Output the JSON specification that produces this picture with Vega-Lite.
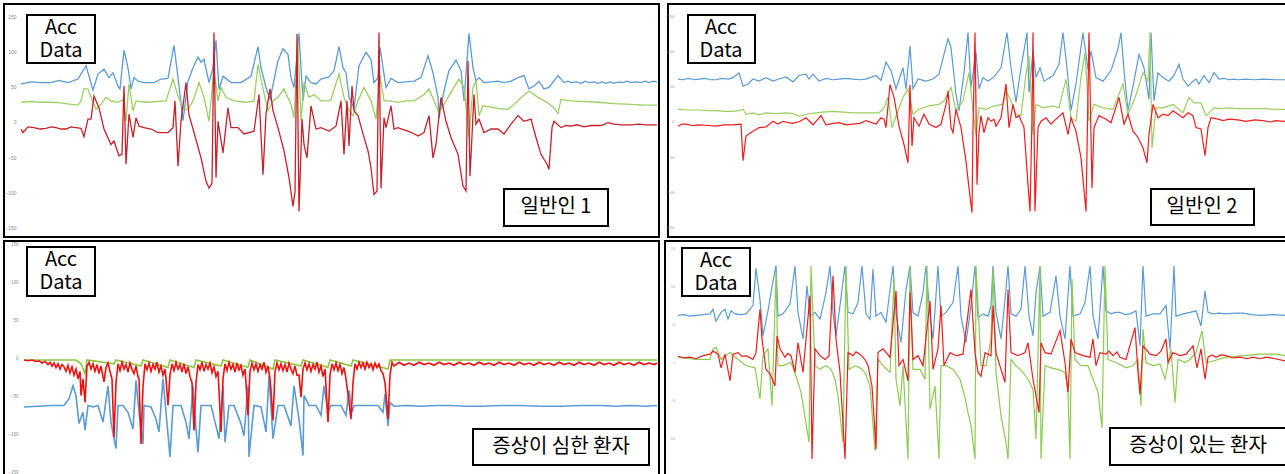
{
"$schema":"https://vega.github.io/schema/vega-lite/v6.json",
"padding":{"left":3,"top":3,"right":2,"bottom":2},
"config":{"view":{"stroke":"black","strokeWidth":2},"text":{"font":"Noto Sans CJK KR"}},
"datasets":{
"grid":[{"v":-150},{"v":-100},{"v":-50},{"v":0},{"v":50},{"v":100},{"v":150}],
"p1":[
{"s":"X","n":20,"v":54},{"s":"X","n":30,"v":57},{"s":"X","n":40,"v":56},{"s":"X","n":50,"v":56},{"s":"X","n":58,"v":59},{"s":"X","n":67,"v":56},{"s":"X","n":77,"v":61},{"s":"X","n":85,"v":80},{"s":"X","n":92,"v":45},{"s":"X","n":97,"v":68},{"s":"X","n":103,"v":75},{"s":"X","n":108,"v":63},{"s":"X","n":112,"v":70},{"s":"X","n":117,"v":51},{"s":"X","n":119,"v":47},{"s":"X","n":123,"v":102},{"s":"X","n":127,"v":77},{"s":"X","n":130,"v":47},{"s":"X","n":133,"v":63},{"s":"X","n":137,"v":58},{"s":"X","n":143,"v":56},{"s":"X","n":153,"v":56},{"s":"X","n":160,"v":61},{"s":"X","n":167,"v":62},{"s":"X","n":173,"v":109},{"s":"X","n":177,"v":63},{"s":"X","n":182,"v":2},{"s":"X","n":187,"v":58},{"s":"X","n":192,"v":77},{"s":"X","n":197,"v":92},{"s":"X","n":200,"v":85},{"s":"X","n":203,"v":89},{"s":"X","n":208,"v":56},{"s":"X","n":212,"v":77},{"s":"X","n":215,"v":116},{"s":"X","n":218,"v":46},{"s":"X","n":222,"v":65},{"s":"X","n":230,"v":56},{"s":"X","n":240,"v":56},{"s":"X","n":250,"v":65},{"s":"X","n":257,"v":107},{"s":"X","n":260,"v":77},{"s":"X","n":265,"v":49},{"s":"X","n":269,"v":32},{"s":"X","n":277,"v":87},{"s":"X","n":282,"v":104},{"s":"X","n":287,"v":96},{"s":"X","n":290,"v":63},{"s":"X","n":293,"v":49},{"s":"X","n":298,"v":126},{"s":"X","n":302,"v":30},{"s":"X","n":305,"v":65},{"s":"X","n":310,"v":56},{"s":"X","n":315,"v":54},{"s":"X","n":320,"v":61},{"s":"X","n":328,"v":64},{"s":"X","n":333,"v":73},{"s":"X","n":338,"v":107},{"s":"X","n":342,"v":77},{"s":"X","n":345,"v":70},{"s":"X","n":348,"v":35},{"s":"X","n":353,"v":20},{"s":"X","n":358,"v":80},{"s":"X","n":365,"v":99},{"s":"X","n":370,"v":89},{"s":"X","n":373,"v":56},{"s":"X","n":377,"v":63},{"s":"X","n":379,"v":106},{"s":"X","n":385,"v":49},{"s":"X","n":390,"v":62},{"s":"X","n":397,"v":56},{"s":"X","n":405,"v":57},{"s":"X","n":413,"v":58},{"s":"X","n":420,"v":63},{"s":"X","n":427,"v":94},{"s":"X","n":432,"v":70},{"s":"X","n":437,"v":35},{"s":"X","n":438,"v":6},{"s":"X","n":443,"v":44},{"s":"X","n":448,"v":73},{"s":"X","n":455,"v":88},{"s":"X","n":460,"v":73},{"s":"X","n":463,"v":30},{"s":"X","n":468,"v":126},{"s":"X","n":472,"v":77},{"s":"X","n":475,"v":58},{"s":"X","n":478,"v":63},{"s":"X","n":483,"v":56},{"s":"X","n":490,"v":57},{"s":"X","n":497,"v":58},{"s":"X","n":503,"v":56},{"s":"X","n":510,"v":58},{"s":"X","n":517,"v":63},{"s":"X","n":523,"v":66},{"s":"X","n":528,"v":47},{"s":"X","n":533,"v":51},{"s":"X","n":538,"v":58},{"s":"X","n":543,"v":47},{"s":"X","n":548,"v":49},{"s":"X","n":557,"v":66},{"s":"X","n":563,"v":56},{"s":"X","n":567,"v":58},{"s":"X","n":570,"v":56},{"s":"X","n":575,"v":57},{"s":"X","n":580,"v":55},{"s":"X","n":584,"v":58},{"s":"X","n":588,"v":56},{"s":"X","n":593,"v":57},{"s":"X","n":597,"v":55},{"s":"X","n":601,"v":57},{"s":"X","n":605,"v":55},{"s":"X","n":609,"v":57},{"s":"X","n":613,"v":55},{"s":"X","n":618,"v":57},{"s":"X","n":622,"v":56},{"s":"X","n":626,"v":58},{"s":"X","n":630,"v":56},{"s":"X","n":635,"v":57},{"s":"X","n":640,"v":56},{"s":"X","n":644,"v":58},{"s":"X","n":648,"v":56},{"s":"X","n":652,"v":58},{"s":"X","n":656,"v":57},
{"s":"Y","n":20,"v":28},{"s":"Y","n":30,"v":29},{"s":"Y","n":40,"v":28},{"s":"Y","n":50,"v":28},{"s":"Y","n":60,"v":27},{"s":"Y","n":70,"v":25},{"s":"Y","n":77,"v":24},{"s":"Y","n":80,"v":30},{"s":"Y","n":83,"v":47},{"s":"Y","n":87,"v":47},{"s":"Y","n":90,"v":35},{"s":"Y","n":95,"v":18},{"s":"Y","n":100,"v":25},{"s":"Y","n":105,"v":35},{"s":"Y","n":110,"v":30},{"s":"Y","n":117,"v":28},{"s":"Y","n":122,"v":32},{"s":"Y","n":125,"v":1},{"s":"Y","n":128,"v":54},{"s":"Y","n":132,"v":16},{"s":"Y","n":135,"v":30},{"s":"Y","n":145,"v":28},{"s":"Y","n":155,"v":29},{"s":"Y","n":165,"v":30},{"s":"Y","n":172,"v":61},{"s":"Y","n":177,"v":37},{"s":"Y","n":182,"v":20},{"s":"Y","n":187,"v":18},{"s":"Y","n":192,"v":30},{"s":"Y","n":198,"v":56},{"s":"Y","n":203,"v":35},{"s":"Y","n":208,"v":1},{"s":"Y","n":213,"v":73},{"s":"Y","n":217,"v":30},{"s":"Y","n":220,"v":49},{"s":"Y","n":225,"v":35},{"s":"Y","n":233,"v":30},{"s":"Y","n":245,"v":28},{"s":"Y","n":253,"v":30},{"s":"Y","n":257,"v":82},{"s":"Y","n":262,"v":47},{"s":"Y","n":267,"v":16},{"s":"Y","n":272,"v":30},{"s":"Y","n":277,"v":35},{"s":"Y","n":283,"v":47},{"s":"Y","n":290,"v":25},{"s":"Y","n":293,"v":6},{"s":"Y","n":297,"v":113},{"s":"Y","n":300,"v":1},{"s":"Y","n":303,"v":56},{"s":"Y","n":308,"v":35},{"s":"Y","n":313,"v":39},{"s":"Y","n":320,"v":30},{"s":"Y","n":328,"v":30},{"s":"Y","n":330,"v":32},{"s":"Y","n":338,"v":68},{"s":"Y","n":343,"v":35},{"s":"Y","n":348,"v":16},{"s":"Y","n":352,"v":9},{"s":"Y","n":357,"v":30},{"s":"Y","n":363,"v":49},{"s":"Y","n":370,"v":30},{"s":"Y","n":375,"v":4},{"s":"Y","n":379,"v":66},{"s":"Y","n":383,"v":30},{"s":"Y","n":388,"v":30},{"s":"Y","n":397,"v":28},{"s":"Y","n":405,"v":30},{"s":"Y","n":413,"v":30},{"s":"Y","n":423,"v":39},{"s":"Y","n":428,"v":47},{"s":"Y","n":433,"v":30},{"s":"Y","n":438,"v":13},{"s":"Y","n":445,"v":30},{"s":"Y","n":452,"v":47},{"s":"Y","n":458,"v":61},{"s":"Y","n":463,"v":49},{"s":"Y","n":468,"v":-22},{"s":"Y","n":472,"v":49},{"s":"Y","n":475,"v":58},{"s":"Y","n":478,"v":9},{"s":"Y","n":482,"v":23},{"s":"Y","n":490,"v":21},{"s":"Y","n":498,"v":19},{"s":"Y","n":507,"v":18},{"s":"Y","n":513,"v":25},{"s":"Y","n":522,"v":37},{"s":"Y","n":528,"v":44},{"s":"Y","n":537,"v":35},{"s":"Y","n":547,"v":27},{"s":"Y","n":553,"v":20},{"s":"Y","n":557,"v":12},{"s":"Y","n":560,"v":32},{"s":"Y","n":570,"v":30},{"s":"Y","n":583,"v":29},{"s":"Y","n":597,"v":28},{"s":"Y","n":613,"v":26},{"s":"Y","n":630,"v":25},{"s":"Y","n":643,"v":24},{"s":"Y","n":656,"v":24},
{"s":"Z","n":20,"v":-10},{"s":"Z","n":22,"v":-15},{"s":"Z","n":27,"v":-7},{"s":"Z","n":33,"v":-8},{"s":"Z","n":39,"v":-10},{"s":"Z","n":45,"v":-9},{"s":"Z","n":50,"v":-7},{"s":"Z","n":55,"v":-8},{"s":"Z","n":60,"v":-10},{"s":"Z","n":65,"v":-10},{"s":"Z","n":70,"v":-7},{"s":"Z","n":75,"v":-8},{"s":"Z","n":80,"v":-9},{"s":"Z","n":83,"v":-21},{"s":"Z","n":87,"v":4},{"s":"Z","n":90,"v":4},{"s":"Z","n":93,"v":37},{"s":"Z","n":98,"v":20},{"s":"Z","n":103,"v":-10},{"s":"Z","n":110,"v":-32},{"s":"Z","n":113,"v":-27},{"s":"Z","n":118,"v":-48},{"s":"Z","n":121,"v":-46},{"s":"Z","n":123,"v":51},{"s":"Z","n":125,"v":-60},{"s":"Z","n":128,"v":11},{"s":"Z","n":132,"v":-22},{"s":"Z","n":135,"v":6},{"s":"Z","n":138,"v":-6},{"s":"Z","n":143,"v":-8},{"s":"Z","n":150,"v":-10},{"s":"Z","n":157,"v":-15},{"s":"Z","n":167,"v":-15},{"s":"Z","n":172,"v":-8},{"s":"Z","n":174,"v":30},{"s":"Z","n":177,"v":-63},{"s":"Z","n":180,"v":1},{"s":"Z","n":185,"v":56},{"s":"Z","n":188,"v":10},{"s":"Z","n":193,"v":-15},{"s":"Z","n":200,"v":-51},{"s":"Z","n":205,"v":-84},{"s":"Z","n":208,"v":-94},{"s":"Z","n":211,"v":-87},{"s":"Z","n":213,"v":127},{"s":"Z","n":215,"v":-79},{"s":"Z","n":217,"v":1},{"s":"Z","n":222,"v":-44},{"s":"Z","n":227,"v":20},{"s":"Z","n":230,"v":-8},{"s":"Z","n":237,"v":-8},{"s":"Z","n":243,"v":-17},{"s":"Z","n":253,"v":-13},{"s":"Z","n":258,"v":39},{"s":"Z","n":262,"v":-75},{"s":"Z","n":265,"v":11},{"s":"Z","n":269,"v":47},{"s":"Z","n":272,"v":16},{"s":"Z","n":277,"v":-8},{"s":"Z","n":283,"v":-41},{"s":"Z","n":288,"v":-79},{"s":"Z","n":292,"v":-120},{"s":"Z","n":294,"v":-99},{"s":"Z","n":296,"v":125},{"s":"Z","n":298,"v":-127},{"s":"Z","n":301,"v":4},{"s":"Z","n":303,"v":-32},{"s":"Z","n":306,"v":-51},{"s":"Z","n":310,"v":23},{"s":"Z","n":315,"v":-10},{"s":"Z","n":320,"v":-8},{"s":"Z","n":328,"v":-13},{"s":"Z","n":335,"v":-6},{"s":"Z","n":340,"v":30},{"s":"Z","n":343,"v":-46},{"s":"Z","n":346,"v":30},{"s":"Z","n":348,"v":-34},{"s":"Z","n":351,"v":51},{"s":"Z","n":353,"v":16},{"s":"Z","n":357,"v":9},{"s":"Z","n":362,"v":-17},{"s":"Z","n":367,"v":-41},{"s":"Z","n":370,"v":-65},{"s":"Z","n":373,"v":-103},{"s":"Z","n":376,"v":-98},{"s":"Z","n":378,"v":127},{"s":"Z","n":380,"v":-94},{"s":"Z","n":383,"v":6},{"s":"Z","n":385,"v":-8},{"s":"Z","n":390,"v":23},{"s":"Z","n":393,"v":-10},{"s":"Z","n":397,"v":-8},{"s":"Z","n":402,"v":-11},{"s":"Z","n":407,"v":-13},{"s":"Z","n":412,"v":-16},{"s":"Z","n":417,"v":-20},{"s":"Z","n":423,"v":-15},{"s":"Z","n":428,"v":9},{"s":"Z","n":432,"v":-51},{"s":"Z","n":435,"v":-32},{"s":"Z","n":440,"v":35},{"s":"Z","n":445,"v":1},{"s":"Z","n":450,"v":-22},{"s":"Z","n":457,"v":-46},{"s":"Z","n":462,"v":-91},{"s":"Z","n":465,"v":-98},{"s":"Z","n":467,"v":87},{"s":"Z","n":469,"v":-77},{"s":"Z","n":473,"v":39},{"s":"Z","n":475,"v":-3},{"s":"Z","n":478,"v":4},{"s":"Z","n":483,"v":-15},{"s":"Z","n":490,"v":-10},{"s":"Z","n":497,"v":-10},{"s":"Z","n":503,"v":-17},{"s":"Z","n":510,"v":-3},{"s":"Z","n":517,"v":9},{"s":"Z","n":523,"v":1},{"s":"Z","n":530,"v":4},{"s":"Z","n":535,"v":-22},{"s":"Z","n":540,"v":-46},{"s":"Z","n":546,"v":-60},{"s":"Z","n":548,"v":-67},{"s":"Z","n":551,"v":-8},{"s":"Z","n":553,"v":1},{"s":"Z","n":560,"v":-8},{"s":"Z","n":565,"v":-5},{"s":"Z","n":570,"v":-6},{"s":"Z","n":576,"v":-4},{"s":"Z","n":583,"v":-7},{"s":"Z","n":590,"v":-5},{"s":"Z","n":600,"v":-5},{"s":"Z","n":607,"v":-1},{"s":"Z","n":613,"v":-3},{"s":"Z","n":620,"v":-4},{"s":"Z","n":630,"v":-4},{"s":"Z","n":638,"v":-3},{"s":"Z","n":645,"v":-4},{"s":"Z","n":656,"v":-4}
],
"p2":[
{"s":"X","n":670,"v":61},{"s":"X","n":675,"v":60},{"s":"X","n":681,"v":62},{"s":"X","n":686,"v":60},{"s":"X","n":691,"v":61},{"s":"X","n":697,"v":62},{"s":"X","n":703,"v":60},{"s":"X","n":708,"v":60},{"s":"X","n":714,"v":62},{"s":"X","n":720,"v":61},{"s":"X","n":725,"v":63},{"s":"X","n":731,"v":70},{"s":"X","n":735,"v":51},{"s":"X","n":740,"v":54},{"s":"X","n":745,"v":61},{"s":"X","n":751,"v":58},{"s":"X","n":758,"v":63},{"s":"X","n":765,"v":58},{"s":"X","n":771,"v":61},{"s":"X","n":778,"v":64},{"s":"X","n":785,"v":57},{"s":"X","n":791,"v":66},{"s":"X","n":798,"v":68},{"s":"X","n":801,"v":61},{"s":"X","n":805,"v":68},{"s":"X","n":811,"v":58},{"s":"X","n":818,"v":62},{"s":"X","n":825,"v":60},{"s":"X","n":831,"v":61},{"s":"X","n":838,"v":62},{"s":"X","n":845,"v":61},{"s":"X","n":852,"v":60},{"s":"X","n":858,"v":61},{"s":"X","n":868,"v":66},{"s":"X","n":873,"v":59},{"s":"X","n":878,"v":85},{"s":"X","n":883,"v":73},{"s":"X","n":888,"v":47},{"s":"X","n":895,"v":77},{"s":"X","n":898,"v":47},{"s":"X","n":902,"v":108},{"s":"X","n":905,"v":47},{"s":"X","n":910,"v":61},{"s":"X","n":918,"v":58},{"s":"X","n":925,"v":61},{"s":"X","n":931,"v":68},{"s":"X","n":936,"v":96},{"s":"X","n":940,"v":118},{"s":"X","n":943,"v":106},{"s":"X","n":948,"v":39},{"s":"X","n":951,"v":16},{"s":"X","n":956,"v":70},{"s":"X","n":960,"v":127},{"s":"X","n":963,"v":49},{"s":"X","n":968,"v":99},{"s":"X","n":971,"v":47},{"s":"X","n":975,"v":63},{"s":"X","n":980,"v":58},{"s":"X","n":986,"v":64},{"s":"X","n":993,"v":77},{"s":"X","n":999,"v":127},{"s":"X","n":1003,"v":77},{"s":"X","n":1008,"v":28},{"s":"X","n":1013,"v":77},{"s":"X","n":1019,"v":127},{"s":"X","n":1021,"v":42},{"s":"X","n":1025,"v":101},{"s":"X","n":1028,"v":63},{"s":"X","n":1032,"v":77},{"s":"X","n":1036,"v":58},{"s":"X","n":1045,"v":66},{"s":"X","n":1051,"v":82},{"s":"X","n":1055,"v":127},{"s":"X","n":1059,"v":77},{"s":"X","n":1063,"v":16},{"s":"X","n":1068,"v":54},{"s":"X","n":1075,"v":127},{"s":"X","n":1080,"v":75},{"s":"X","n":1083,"v":101},{"s":"X","n":1088,"v":63},{"s":"X","n":1095,"v":58},{"s":"X","n":1103,"v":73},{"s":"X","n":1110,"v":104},{"s":"X","n":1113,"v":127},{"s":"X","n":1116,"v":73},{"s":"X","n":1120,"v":16},{"s":"X","n":1125,"v":51},{"s":"X","n":1131,"v":96},{"s":"X","n":1136,"v":77},{"s":"X","n":1141,"v":32},{"s":"X","n":1143,"v":127},{"s":"X","n":1146,"v":30},{"s":"X","n":1150,"v":70},{"s":"X","n":1155,"v":63},{"s":"X","n":1161,"v":58},{"s":"X","n":1166,"v":66},{"s":"X","n":1171,"v":82},{"s":"X","n":1175,"v":61},{"s":"X","n":1180,"v":51},{"s":"X","n":1185,"v":58},{"s":"X","n":1188,"v":61},{"s":"X","n":1191,"v":54},{"s":"X","n":1196,"v":66},{"s":"X","n":1201,"v":56},{"s":"X","n":1206,"v":70},{"s":"X","n":1211,"v":61},{"s":"X","n":1216,"v":62},{"s":"X","n":1221,"v":60},{"s":"X","n":1226,"v":61},{"s":"X","n":1230,"v":60},{"s":"X","n":1238,"v":61},{"s":"X","n":1247,"v":60},{"s":"X","n":1255,"v":61},{"s":"X","n":1268,"v":60},{"s":"X","n":1281,"v":60},
{"s":"Y","n":670,"v":18},{"s":"Y","n":680,"v":17},{"s":"Y","n":691,"v":17},{"s":"Y","n":700,"v":16},{"s":"Y","n":708,"v":16},{"s":"Y","n":717,"v":15},{"s":"Y","n":725,"v":15},{"s":"Y","n":731,"v":16},{"s":"Y","n":735,"v":18},{"s":"Y","n":738,"v":11},{"s":"Y","n":745,"v":13},{"s":"Y","n":751,"v":10},{"s":"Y","n":758,"v":13},{"s":"Y","n":768,"v":12},{"s":"Y","n":778,"v":13},{"s":"Y","n":785,"v":12},{"s":"Y","n":791,"v":8},{"s":"Y","n":798,"v":11},{"s":"Y","n":808,"v":13},{"s":"Y","n":815,"v":14},{"s":"Y","n":825,"v":15},{"s":"Y","n":835,"v":14},{"s":"Y","n":845,"v":13},{"s":"Y","n":858,"v":13},{"s":"Y","n":871,"v":13},{"s":"Y","n":876,"v":20},{"s":"Y","n":880,"v":35},{"s":"Y","n":884,"v":-8},{"s":"Y","n":890,"v":16},{"s":"Y","n":895,"v":35},{"s":"Y","n":900,"v":47},{"s":"Y","n":905,"v":11},{"s":"Y","n":911,"v":18},{"s":"Y","n":921,"v":23},{"s":"Y","n":931,"v":25},{"s":"Y","n":936,"v":30},{"s":"Y","n":943,"v":49},{"s":"Y","n":948,"v":16},{"s":"Y","n":955,"v":30},{"s":"Y","n":961,"v":70},{"s":"Y","n":965,"v":16},{"s":"Y","n":968,"v":-18},{"s":"Y","n":971,"v":20},{"s":"Y","n":978,"v":18},{"s":"Y","n":986,"v":23},{"s":"Y","n":995,"v":25},{"s":"Y","n":998,"v":44},{"s":"Y","n":1003,"v":30},{"s":"Y","n":1008,"v":11},{"s":"Y","n":1013,"v":9},{"s":"Y","n":1018,"v":68},{"s":"Y","n":1021,"v":94},{"s":"Y","n":1025,"v":-18},{"s":"Y","n":1028,"v":25},{"s":"Y","n":1035,"v":20},{"s":"Y","n":1045,"v":23},{"s":"Y","n":1051,"v":20},{"s":"Y","n":1058,"v":61},{"s":"Y","n":1063,"v":6},{"s":"Y","n":1068,"v":1},{"s":"Y","n":1073,"v":63},{"s":"Y","n":1077,"v":99},{"s":"Y","n":1081,"v":1},{"s":"Y","n":1086,"v":25},{"s":"Y","n":1095,"v":20},{"s":"Y","n":1105,"v":18},{"s":"Y","n":1115,"v":54},{"s":"Y","n":1120,"v":11},{"s":"Y","n":1126,"v":30},{"s":"Y","n":1135,"v":70},{"s":"Y","n":1140,"v":58},{"s":"Y","n":1142,"v":127},{"s":"Y","n":1144,"v":-37},{"s":"Y","n":1148,"v":20},{"s":"Y","n":1155,"v":20},{"s":"Y","n":1165,"v":25},{"s":"Y","n":1175,"v":13},{"s":"Y","n":1181,"v":35},{"s":"Y","n":1186,"v":27},{"s":"Y","n":1193,"v":27},{"s":"Y","n":1198,"v":9},{"s":"Y","n":1201,"v":13},{"s":"Y","n":1206,"v":20},{"s":"Y","n":1214,"v":19},{"s":"Y","n":1221,"v":20},{"s":"Y","n":1230,"v":19},{"s":"Y","n":1238,"v":19},{"s":"Y","n":1247,"v":19},{"s":"Y","n":1255,"v":19},{"s":"Y","n":1268,"v":18},{"s":"Y","n":1281,"v":18},
{"s":"Z","n":670,"v":-6},{"s":"Z","n":674,"v":-3},{"s":"Z","n":678,"v":-3},{"s":"Z","n":684,"v":-5},{"s":"Z","n":691,"v":-4},{"s":"Z","n":700,"v":-5},{"s":"Z","n":708,"v":-6},{"s":"Z","n":716,"v":-4},{"s":"Z","n":725,"v":-4},{"s":"Z","n":733,"v":-3},{"s":"Z","n":735,"v":-55},{"s":"Z","n":738,"v":-20},{"s":"Z","n":743,"v":-15},{"s":"Z","n":751,"v":-8},{"s":"Z","n":758,"v":-7},{"s":"Z","n":765,"v":1},{"s":"Z","n":770,"v":-3},{"s":"Z","n":775,"v":1},{"s":"Z","n":780,"v":-1},{"s":"Z","n":785,"v":-2},{"s":"Z","n":792,"v":1},{"s":"Z","n":798,"v":6},{"s":"Z","n":805,"v":-4},{"s":"Z","n":813,"v":9},{"s":"Z","n":818,"v":-4},{"s":"Z","n":825,"v":-2},{"s":"Z","n":831,"v":-1},{"s":"Z","n":838,"v":-4},{"s":"Z","n":845,"v":-3},{"s":"Z","n":852,"v":-2},{"s":"Z","n":858,"v":2},{"s":"Z","n":868,"v":-3},{"s":"Z","n":873,"v":6},{"s":"Z","n":876,"v":4},{"s":"Z","n":878,"v":-8},{"s":"Z","n":882,"v":53},{"s":"Z","n":886,"v":35},{"s":"Z","n":891,"v":-6},{"s":"Z","n":896,"v":-32},{"s":"Z","n":900,"v":-58},{"s":"Z","n":902,"v":53},{"s":"Z","n":904,"v":-34},{"s":"Z","n":906,"v":6},{"s":"Z","n":911,"v":-6},{"s":"Z","n":916,"v":11},{"s":"Z","n":921,"v":-3},{"s":"Z","n":928,"v":-8},{"s":"Z","n":933,"v":-3},{"s":"Z","n":938,"v":25},{"s":"Z","n":940,"v":44},{"s":"Z","n":943,"v":-8},{"s":"Z","n":945,"v":-15},{"s":"Z","n":948,"v":18},{"s":"Z","n":953,"v":-8},{"s":"Z","n":958,"v":-56},{"s":"Z","n":961,"v":-94},{"s":"Z","n":964,"v":-129},{"s":"Z","n":965,"v":-8},{"s":"Z","n":967,"v":127},{"s":"Z","n":969,"v":-89},{"s":"Z","n":971,"v":-15},{"s":"Z","n":973,"v":9},{"s":"Z","n":976,"v":-15},{"s":"Z","n":980,"v":6},{"s":"Z","n":983,"v":1},{"s":"Z","n":986,"v":4},{"s":"Z","n":988,"v":-6},{"s":"Z","n":993,"v":6},{"s":"Z","n":998,"v":54},{"s":"Z","n":1001,"v":-8},{"s":"Z","n":1005,"v":25},{"s":"Z","n":1008,"v":6},{"s":"Z","n":1011,"v":9},{"s":"Z","n":1016,"v":-8},{"s":"Z","n":1020,"v":-89},{"s":"Z","n":1022,"v":-127},{"s":"Z","n":1024,"v":6},{"s":"Z","n":1025,"v":127},{"s":"Z","n":1027,"v":-127},{"s":"Z","n":1030,"v":-8},{"s":"Z","n":1033,"v":1},{"s":"Z","n":1038,"v":6},{"s":"Z","n":1043,"v":-3},{"s":"Z","n":1048,"v":4},{"s":"Z","n":1055,"v":13},{"s":"Z","n":1060,"v":-18},{"s":"Z","n":1063,"v":6},{"s":"Z","n":1068,"v":-13},{"s":"Z","n":1073,"v":-51},{"s":"Z","n":1078,"v":-127},{"s":"Z","n":1081,"v":127},{"s":"Z","n":1084,"v":-94},{"s":"Z","n":1086,"v":-8},{"s":"Z","n":1091,"v":9},{"s":"Z","n":1098,"v":4},{"s":"Z","n":1103,"v":-1},{"s":"Z","n":1111,"v":35},{"s":"Z","n":1116,"v":-3},{"s":"Z","n":1120,"v":11},{"s":"Z","n":1125,"v":-13},{"s":"Z","n":1130,"v":-22},{"s":"Z","n":1135,"v":-37},{"s":"Z","n":1139,"v":-58},{"s":"Z","n":1141,"v":-18},{"s":"Z","n":1145,"v":25},{"s":"Z","n":1150,"v":6},{"s":"Z","n":1155,"v":11},{"s":"Z","n":1160,"v":9},{"s":"Z","n":1165,"v":16},{"s":"Z","n":1170,"v":11},{"s":"Z","n":1175,"v":6},{"s":"Z","n":1180,"v":13},{"s":"Z","n":1185,"v":9},{"s":"Z","n":1188,"v":-8},{"s":"Z","n":1193,"v":-10},{"s":"Z","n":1197,"v":-48},{"s":"Z","n":1200,"v":-8},{"s":"Z","n":1203,"v":6},{"s":"Z","n":1210,"v":4},{"s":"Z","n":1215,"v":2},{"s":"Z","n":1221,"v":4},{"s":"Z","n":1230,"v":3},{"s":"Z","n":1238,"v":1},{"s":"Z","n":1247,"v":3},{"s":"Z","n":1255,"v":2},{"s":"Z","n":1262,"v":0},{"s":"Z","n":1268,"v":2},{"s":"Z","n":1275,"v":1},{"s":"Z","n":1281,"v":2}
],
"p3":[
{"s":"X","n":23,"v":-62},{"s":"X","n":37,"v":-61},{"s":"X","n":50,"v":-60},{"s":"X","n":63,"v":-60},{"s":"X","n":68,"v":-51},{"s":"X","n":72,"v":-34},{"s":"X","n":75,"v":-47},{"s":"X","n":78,"v":-84},{"s":"X","n":82,"v":-69},{"s":"X","n":84,"v":-93},{"s":"X","n":87,"v":-60},{"s":"X","n":92,"v":-62},{"s":"X","n":97,"v":-60},{"s":"X","n":102,"v":-82},{"s":"X","n":107,"v":-34},{"s":"X","n":110,"v":-82},{"s":"X","n":113,"v":-104},{"s":"X","n":115,"v":-117},{"s":"X","n":117,"v":-60},{"s":"X","n":122,"v":-60},{"s":"X","n":127,"v":-69},{"s":"X","n":132,"v":-91},{"s":"X","n":135,"v":-27},{"s":"X","n":138,"v":-69},{"s":"X","n":142,"v":-111},{"s":"X","n":143,"v":-60},{"s":"X","n":150,"v":-62},{"s":"X","n":155,"v":-78},{"s":"X","n":158,"v":-95},{"s":"X","n":162,"v":-25},{"s":"X","n":165,"v":-69},{"s":"X","n":169,"v":-128},{"s":"X","n":172,"v":-60},{"s":"X","n":180,"v":-60},{"s":"X","n":185,"v":-82},{"s":"X","n":188,"v":-104},{"s":"X","n":192,"v":-34},{"s":"X","n":195,"v":-91},{"s":"X","n":197,"v":-122},{"s":"X","n":200,"v":-60},{"s":"X","n":210,"v":-60},{"s":"X","n":215,"v":-87},{"s":"X","n":218,"v":-104},{"s":"X","n":222,"v":-34},{"s":"X","n":224,"v":-109},{"s":"X","n":228,"v":-60},{"s":"X","n":233,"v":-60},{"s":"X","n":240,"v":-84},{"s":"X","n":243,"v":-100},{"s":"X","n":247,"v":-34},{"s":"X","n":248,"v":-128},{"s":"X","n":253,"v":-60},{"s":"X","n":260,"v":-62},{"s":"X","n":265,"v":-95},{"s":"X","n":268,"v":-21},{"s":"X","n":272,"v":-104},{"s":"X","n":277,"v":-60},{"s":"X","n":283,"v":-60},{"s":"X","n":290,"v":-87},{"s":"X","n":293,"v":-34},{"s":"X","n":298,"v":-78},{"s":"X","n":302,"v":-126},{"s":"X","n":303,"v":-47},{"s":"X","n":308,"v":-60},{"s":"X","n":315,"v":-60},{"s":"X","n":320,"v":-73},{"s":"X","n":323,"v":-34},{"s":"X","n":327,"v":-69},{"s":"X","n":330,"v":-60},{"s":"X","n":340,"v":-60},{"s":"X","n":345,"v":-73},{"s":"X","n":348,"v":-40},{"s":"X","n":351,"v":-69},{"s":"X","n":353,"v":-60},{"s":"X","n":363,"v":-60},{"s":"X","n":377,"v":-60},{"s":"X","n":382,"v":-69},{"s":"X","n":384,"v":-45},{"s":"X","n":387,"v":-87},{"s":"X","n":389,"v":-56},{"s":"X","n":393,"v":-61},{"s":"X","n":405,"v":-60},{"s":"X","n":420,"v":-61},{"s":"X","n":435,"v":-60},{"s":"X","n":450,"v":-60},{"s":"X","n":465,"v":-61},{"s":"X","n":480,"v":-61},{"s":"X","n":500,"v":-60},{"s":"X","n":520,"v":-60},{"s":"X","n":540,"v":-61},{"s":"X","n":560,"v":-61},{"s":"X","n":580,"v":-60},{"s":"X","n":600,"v":-60},{"s":"X","n":615,"v":-61},{"s":"X","n":630,"v":-60},{"s":"X","n":645,"v":-61},{"s":"X","n":656,"v":-60},
{"s":"Y","n":23,"v":0},{"s":"Y","n":75,"v":0},{"s":"Y","n":80,"v":-5},{"s":"Y","n":84,"v":-18},{"s":"Y","n":86,"v":0},{"s":"Y","n":113,"v":-5},{"s":"Y","n":115,"v":0},{"s":"Y","n":140,"v":-8},{"s":"Y","n":142,"v":0},{"s":"Y","n":167,"v":-10},{"s":"Y","n":169,"v":0},{"s":"Y","n":193,"v":-10},{"s":"Y","n":195,"v":0},{"s":"Y","n":220,"v":-8},{"s":"Y","n":222,"v":0},{"s":"Y","n":247,"v":-10},{"s":"Y","n":249,"v":0},{"s":"Y","n":272,"v":-12},{"s":"Y","n":274,"v":0},{"s":"Y","n":300,"v":-8},{"s":"Y","n":302,"v":0},{"s":"Y","n":327,"v":-10},{"s":"Y","n":329,"v":0},{"s":"Y","n":350,"v":-8},{"s":"Y","n":352,"v":0},{"s":"Y","n":387,"v":-12},{"s":"Y","n":389,"v":0},{"s":"Y","n":656,"v":0},
{"s":"Z","n":23,"v":0},{"s":"Z","n":27,"v":-1},{"s":"Z","n":31,"v":0},{"s":"Z","n":35,"v":-2},{"s":"Z","n":38,"v":-1},{"s":"Z","n":41,"v":-4},{"s":"Z","n":44,"v":-2},{"s":"Z","n":47,"v":-6},{"s":"Z","n":49,"v":-3},{"s":"Z","n":51,"v":-8},{"s":"Z","n":53,"v":-4},{"s":"Z","n":55,"v":-10},{"s":"Z","n":57,"v":-5},{"s":"Z","n":59,"v":-12},{"s":"Z","n":61,"v":-6},{"s":"Z","n":63,"v":-9},{"s":"Z","n":65,"v":-15},{"s":"Z","n":67,"v":-7},{"s":"Z","n":69,"v":-17},{"s":"Z","n":71,"v":-9},{"s":"Z","n":73,"v":-20},{"s":"Z","n":75,"v":-12},{"s":"Z","n":77,"v":-25},{"s":"Z","n":79,"v":-15},{"s":"Z","n":80,"v":-47},{"s":"Z","n":82,"v":-25},{"s":"Z","n":84,"v":-56},{"s":"Z","n":86,"v":-8},{"s":"Z","n":88,"v":-3},{"s":"Z","n":90,"v":-12},{"s":"Z","n":92,"v":-5},{"s":"Z","n":94,"v":-15},{"s":"Z","n":96,"v":-6},{"s":"Z","n":98,"v":-18},{"s":"Z","n":100,"v":-8},{"s":"Z","n":102,"v":-22},{"s":"Z","n":103,"v":-29},{"s":"Z","n":105,"v":-10},{"s":"Z","n":107,"v":-4},{"s":"Z","n":109,"v":-15},{"s":"Z","n":111,"v":-25},{"s":"Z","n":113,"v":-102},{"s":"Z","n":115,"v":-30},{"s":"Z","n":117,"v":-5},{"s":"Z","n":119,"v":-14},{"s":"Z","n":121,"v":-3},{"s":"Z","n":123,"v":-12},{"s":"Z","n":125,"v":-6},{"s":"Z","n":127,"v":-16},{"s":"Z","n":129,"v":-4},{"s":"Z","n":131,"v":-12},{"s":"Z","n":133,"v":-18},{"s":"Z","n":135,"v":-8},{"s":"Z","n":137,"v":-22},{"s":"Z","n":138,"v":-25},{"s":"Z","n":140,"v":-111},{"s":"Z","n":142,"v":-35},{"s":"Z","n":144,"v":-5},{"s":"Z","n":146,"v":-13},{"s":"Z","n":148,"v":-4},{"s":"Z","n":150,"v":-15},{"s":"Z","n":152,"v":-6},{"s":"Z","n":154,"v":-12},{"s":"Z","n":156,"v":-3},{"s":"Z","n":158,"v":-16},{"s":"Z","n":160,"v":-8},{"s":"Z","n":162,"v":-20},{"s":"Z","n":164,"v":-12},{"s":"Z","n":165,"v":-25},{"s":"Z","n":167,"v":-60},{"s":"Z","n":169,"v":-20},{"s":"Z","n":171,"v":-5},{"s":"Z","n":173,"v":-14},{"s":"Z","n":175,"v":-3},{"s":"Z","n":177,"v":-12},{"s":"Z","n":179,"v":-6},{"s":"Z","n":181,"v":-16},{"s":"Z","n":183,"v":-5},{"s":"Z","n":185,"v":-18},{"s":"Z","n":187,"v":-9},{"s":"Z","n":189,"v":-22},{"s":"Z","n":191,"v":-30},{"s":"Z","n":193,"v":-93},{"s":"Z","n":195,"v":-30},{"s":"Z","n":197,"v":-6},{"s":"Z","n":199,"v":-13},{"s":"Z","n":201,"v":-3},{"s":"Z","n":203,"v":-15},{"s":"Z","n":205,"v":-6},{"s":"Z","n":207,"v":-12},{"s":"Z","n":209,"v":-4},{"s":"Z","n":211,"v":-17},{"s":"Z","n":213,"v":-9},{"s":"Z","n":215,"v":-22},{"s":"Z","n":217,"v":-15},{"s":"Z","n":218,"v":-40},{"s":"Z","n":220,"v":-95},{"s":"Z","n":222,"v":-25},{"s":"Z","n":224,"v":-5},{"s":"Z","n":226,"v":-14},{"s":"Z","n":228,"v":-3},{"s":"Z","n":230,"v":-12},{"s":"Z","n":232,"v":-6},{"s":"Z","n":234,"v":-16},{"s":"Z","n":236,"v":-4},{"s":"Z","n":238,"v":-13},{"s":"Z","n":240,"v":-7},{"s":"Z","n":242,"v":-20},{"s":"Z","n":244,"v":-12},{"s":"Z","n":245,"v":-30},{"s":"Z","n":247,"v":-73},{"s":"Z","n":249,"v":-15},{"s":"Z","n":251,"v":-4},{"s":"Z","n":253,"v":-13},{"s":"Z","n":255,"v":-5},{"s":"Z","n":257,"v":-15},{"s":"Z","n":259,"v":-6},{"s":"Z","n":261,"v":-12},{"s":"Z","n":263,"v":-3},{"s":"Z","n":265,"v":-16},{"s":"Z","n":267,"v":-8},{"s":"Z","n":269,"v":-25},{"s":"Z","n":270,"v":-40},{"s":"Z","n":272,"v":-80},{"s":"Z","n":274,"v":-15},{"s":"Z","n":276,"v":-4},{"s":"Z","n":278,"v":-13},{"s":"Z","n":280,"v":-5},{"s":"Z","n":282,"v":-14},{"s":"Z","n":284,"v":-6},{"s":"Z","n":286,"v":-16},{"s":"Z","n":288,"v":-4},{"s":"Z","n":290,"v":-12},{"s":"Z","n":292,"v":-18},{"s":"Z","n":294,"v":-8},{"s":"Z","n":296,"v":-20},{"s":"Z","n":298,"v":-20},{"s":"Z","n":300,"v":-49},{"s":"Z","n":302,"v":-12},{"s":"Z","n":304,"v":-4},{"s":"Z","n":306,"v":-13},{"s":"Z","n":308,"v":-5},{"s":"Z","n":310,"v":-15},{"s":"Z","n":312,"v":-6},{"s":"Z","n":314,"v":-12},{"s":"Z","n":316,"v":-3},{"s":"Z","n":318,"v":-16},{"s":"Z","n":320,"v":-8},{"s":"Z","n":322,"v":-22},{"s":"Z","n":324,"v":-12},{"s":"Z","n":325,"v":-35},{"s":"Z","n":327,"v":-82},{"s":"Z","n":329,"v":-20},{"s":"Z","n":331,"v":-5},{"s":"Z","n":333,"v":-13},{"s":"Z","n":335,"v":-4},{"s":"Z","n":337,"v":-14},{"s":"Z","n":339,"v":-6},{"s":"Z","n":341,"v":-18},{"s":"Z","n":343,"v":-10},{"s":"Z","n":345,"v":-25},{"s":"Z","n":347,"v":-45},{"s":"Z","n":350,"v":-78},{"s":"Z","n":352,"v":-30},{"s":"Z","n":354,"v":-5},{"s":"Z","n":356,"v":-12},{"s":"Z","n":358,"v":-3},{"s":"Z","n":360,"v":-10},{"s":"Z","n":362,"v":-4},{"s":"Z","n":364,"v":-12},{"s":"Z","n":366,"v":-3},{"s":"Z","n":368,"v":-10},{"s":"Z","n":370,"v":-5},{"s":"Z","n":372,"v":-13},{"s":"Z","n":374,"v":-4},{"s":"Z","n":376,"v":-10},{"s":"Z","n":378,"v":-5},{"s":"Z","n":380,"v":-14},{"s":"Z","n":382,"v":-18},{"s":"Z","n":384,"v":-30},{"s":"Z","n":387,"v":-78},{"s":"Z","n":389,"v":-20},{"s":"Z","n":391,"v":-3},{"s":"Z","n":393,"v":-8},{"s":"Z","n":398,"v":-3},{"s":"Z","n":403,"v":-7},{"s":"Z","n":408,"v":-4},{"s":"Z","n":413,"v":-7},{"s":"Z","n":418,"v":-3},{"s":"Z","n":423,"v":-6},{"s":"Z","n":428,"v":-4},{"s":"Z","n":433,"v":-7},{"s":"Z","n":438,"v":-3},{"s":"Z","n":443,"v":-6},{"s":"Z","n":448,"v":-4},{"s":"Z","n":453,"v":-7},{"s":"Z","n":458,"v":-3},{"s":"Z","n":463,"v":-6},{"s":"Z","n":468,"v":-4},{"s":"Z","n":473,"v":-7},{"s":"Z","n":478,"v":-3},{"s":"Z","n":483,"v":-6},{"s":"Z","n":488,"v":-4},{"s":"Z","n":493,"v":-7},{"s":"Z","n":498,"v":-3},{"s":"Z","n":503,"v":-6},{"s":"Z","n":508,"v":-4},{"s":"Z","n":513,"v":-7},{"s":"Z","n":518,"v":-3},{"s":"Z","n":523,"v":-6},{"s":"Z","n":528,"v":-4},{"s":"Z","n":533,"v":-7},{"s":"Z","n":538,"v":-3},{"s":"Z","n":543,"v":-6},{"s":"Z","n":548,"v":-4},{"s":"Z","n":553,"v":-7},{"s":"Z","n":558,"v":-3},{"s":"Z","n":563,"v":-6},{"s":"Z","n":568,"v":-4},{"s":"Z","n":573,"v":-7},{"s":"Z","n":578,"v":-3},{"s":"Z","n":583,"v":-6},{"s":"Z","n":588,"v":-4},{"s":"Z","n":593,"v":-7},{"s":"Z","n":598,"v":-3},{"s":"Z","n":603,"v":-6},{"s":"Z","n":608,"v":-4},{"s":"Z","n":613,"v":-7},{"s":"Z","n":618,"v":-3},{"s":"Z","n":623,"v":-6},{"s":"Z","n":628,"v":-4},{"s":"Z","n":633,"v":-7},{"s":"Z","n":638,"v":-3},{"s":"Z","n":643,"v":-6},{"s":"Z","n":648,"v":-4},{"s":"Z","n":653,"v":-6},{"s":"Z","n":656,"v":-4}
],
"p4":[
{"s":"X","n":673,"v":62},{"s":"X","n":679,"v":63},{"s":"X","n":685,"v":61},{"s":"X","n":691,"v":62},{"s":"X","n":698,"v":63},{"s":"X","n":705,"v":64},{"s":"X","n":708,"v":70},{"s":"X","n":711,"v":54},{"s":"X","n":716,"v":66},{"s":"X","n":720,"v":70},{"s":"X","n":723,"v":57},{"s":"X","n":726,"v":68},{"s":"X","n":730,"v":64},{"s":"X","n":736,"v":63},{"s":"X","n":741,"v":64},{"s":"X","n":748,"v":75},{"s":"X","n":751,"v":124},{"s":"X","n":755,"v":83},{"s":"X","n":758,"v":35},{"s":"X","n":763,"v":68},{"s":"X","n":766,"v":92},{"s":"X","n":771,"v":128},{"s":"X","n":773,"v":61},{"s":"X","n":778,"v":64},{"s":"X","n":785,"v":77},{"s":"X","n":790,"v":127},{"s":"X","n":793,"v":66},{"s":"X","n":798,"v":31},{"s":"X","n":802,"v":101},{"s":"X","n":805,"v":61},{"s":"X","n":810,"v":66},{"s":"X","n":815,"v":57},{"s":"X","n":821,"v":92},{"s":"X","n":825,"v":127},{"s":"X","n":828,"v":64},{"s":"X","n":831,"v":35},{"s":"X","n":835,"v":75},{"s":"X","n":840,"v":127},{"s":"X","n":843,"v":66},{"s":"X","n":848,"v":64},{"s":"X","n":853,"v":79},{"s":"X","n":857,"v":127},{"s":"X","n":861,"v":64},{"s":"X","n":865,"v":57},{"s":"X","n":868,"v":123},{"s":"X","n":871,"v":61},{"s":"X","n":876,"v":66},{"s":"X","n":881,"v":53},{"s":"X","n":888,"v":127},{"s":"X","n":891,"v":64},{"s":"X","n":896,"v":26},{"s":"X","n":901,"v":96},{"s":"X","n":905,"v":127},{"s":"X","n":908,"v":66},{"s":"X","n":913,"v":61},{"s":"X","n":918,"v":92},{"s":"X","n":921,"v":127},{"s":"X","n":925,"v":61},{"s":"X","n":928,"v":31},{"s":"X","n":933,"v":127},{"s":"X","n":936,"v":61},{"s":"X","n":941,"v":66},{"s":"X","n":948,"v":79},{"s":"X","n":953,"v":127},{"s":"X","n":956,"v":61},{"s":"X","n":961,"v":26},{"s":"X","n":966,"v":75},{"s":"X","n":970,"v":127},{"s":"X","n":973,"v":59},{"s":"X","n":978,"v":64},{"s":"X","n":983,"v":61},{"s":"X","n":986,"v":75},{"s":"X","n":988,"v":127},{"s":"X","n":991,"v":66},{"s":"X","n":996,"v":31},{"s":"X","n":1000,"v":83},{"s":"X","n":1003,"v":127},{"s":"X","n":1006,"v":64},{"s":"X","n":1011,"v":61},{"s":"X","n":1016,"v":70},{"s":"X","n":1020,"v":127},{"s":"X","n":1024,"v":61},{"s":"X","n":1028,"v":35},{"s":"X","n":1031,"v":92},{"s":"X","n":1035,"v":127},{"s":"X","n":1038,"v":61},{"s":"X","n":1045,"v":66},{"s":"X","n":1051,"v":114},{"s":"X","n":1055,"v":61},{"s":"X","n":1060,"v":31},{"s":"X","n":1065,"v":127},{"s":"X","n":1068,"v":61},{"s":"X","n":1075,"v":64},{"s":"X","n":1080,"v":79},{"s":"X","n":1085,"v":127},{"s":"X","n":1088,"v":61},{"s":"X","n":1093,"v":31},{"s":"X","n":1098,"v":127},{"s":"X","n":1101,"v":68},{"s":"X","n":1106,"v":64},{"s":"X","n":1110,"v":66},{"s":"X","n":1115,"v":66},{"s":"X","n":1120,"v":63},{"s":"X","n":1125,"v":64},{"s":"X","n":1131,"v":68},{"s":"X","n":1135,"v":22},{"s":"X","n":1138,"v":127},{"s":"X","n":1141,"v":61},{"s":"X","n":1148,"v":64},{"s":"X","n":1155,"v":64},{"s":"X","n":1161,"v":75},{"s":"X","n":1165,"v":18},{"s":"X","n":1169,"v":127},{"s":"X","n":1171,"v":61},{"s":"X","n":1178,"v":64},{"s":"X","n":1185,"v":66},{"s":"X","n":1191,"v":68},{"s":"X","n":1196,"v":48},{"s":"X","n":1200,"v":94},{"s":"X","n":1203,"v":66},{"s":"X","n":1208,"v":64},{"s":"X","n":1214,"v":65},{"s":"X","n":1221,"v":64},{"s":"X","n":1230,"v":65},{"s":"X","n":1238,"v":65},{"s":"X","n":1247,"v":63},{"s":"X","n":1255,"v":62},{"s":"X","n":1268,"v":63},{"s":"X","n":1281,"v":62},
{"s":"Y","n":673,"v":7},{"s":"Y","n":691,"v":4},{"s":"Y","n":705,"v":4},{"s":"Y","n":708,"v":18},{"s":"Y","n":711,"v":20},{"s":"Y","n":716,"v":4},{"s":"Y","n":725,"v":13},{"s":"Y","n":733,"v":4},{"s":"Y","n":741,"v":-4},{"s":"Y","n":750,"v":-7},{"s":"Y","n":755,"v":-48},{"s":"Y","n":758,"v":9},{"s":"Y","n":763,"v":18},{"s":"Y","n":767,"v":-57},{"s":"Y","n":771,"v":118},{"s":"Y","n":773,"v":-4},{"s":"Y","n":778,"v":-4},{"s":"Y","n":786,"v":0},{"s":"Y","n":791,"v":-18},{"s":"Y","n":796,"v":-39},{"s":"Y","n":804,"v":-105},{"s":"Y","n":806,"v":127},{"s":"Y","n":810,"v":-4},{"s":"Y","n":815,"v":-9},{"s":"Y","n":821,"v":-4},{"s":"Y","n":826,"v":-9},{"s":"Y","n":830,"v":-22},{"s":"Y","n":833,"v":-44},{"s":"Y","n":838,"v":-105},{"s":"Y","n":841,"v":127},{"s":"Y","n":844,"v":-9},{"s":"Y","n":850,"v":-4},{"s":"Y","n":855,"v":-7},{"s":"Y","n":860,"v":-13},{"s":"Y","n":865,"v":-31},{"s":"Y","n":870,"v":-116},{"s":"Y","n":873,"v":4},{"s":"Y","n":878,"v":-4},{"s":"Y","n":885,"v":-13},{"s":"Y","n":889,"v":110},{"s":"Y","n":891,"v":-22},{"s":"Y","n":895,"v":-57},{"s":"Y","n":898,"v":-4},{"s":"Y","n":903,"v":-127},{"s":"Y","n":905,"v":127},{"s":"Y","n":908,"v":-9},{"s":"Y","n":915,"v":-9},{"s":"Y","n":920,"v":-22},{"s":"Y","n":922,"v":127},{"s":"Y","n":925,"v":-61},{"s":"Y","n":930,"v":-31},{"s":"Y","n":934,"v":-127},{"s":"Y","n":936,"v":-4},{"s":"Y","n":941,"v":-4},{"s":"Y","n":948,"v":-9},{"s":"Y","n":955,"v":-22},{"s":"Y","n":960,"v":-46},{"s":"Y","n":963,"v":-66},{"s":"Y","n":966,"v":-83},{"s":"Y","n":970,"v":-127},{"s":"Y","n":971,"v":127},{"s":"Y","n":973,"v":75},{"s":"Y","n":976,"v":-4},{"s":"Y","n":981,"v":-4},{"s":"Y","n":986,"v":31},{"s":"Y","n":988,"v":123},{"s":"Y","n":991,"v":-13},{"s":"Y","n":996,"v":-70},{"s":"Y","n":1001,"v":-105},{"s":"Y","n":1003,"v":-127},{"s":"Y","n":1006,"v":4},{"s":"Y","n":1011,"v":-4},{"s":"Y","n":1018,"v":-13},{"s":"Y","n":1023,"v":-22},{"s":"Y","n":1028,"v":-35},{"s":"Y","n":1031,"v":-101},{"s":"Y","n":1035,"v":127},{"s":"Y","n":1036,"v":-127},{"s":"Y","n":1040,"v":-4},{"s":"Y","n":1046,"v":-7},{"s":"Y","n":1053,"v":-9},{"s":"Y","n":1060,"v":-13},{"s":"Y","n":1063,"v":-39},{"s":"Y","n":1065,"v":-127},{"s":"Y","n":1067,"v":110},{"s":"Y","n":1070,"v":4},{"s":"Y","n":1076,"v":-4},{"s":"Y","n":1083,"v":-4},{"s":"Y","n":1088,"v":-22},{"s":"Y","n":1093,"v":-39},{"s":"Y","n":1097,"v":-86},{"s":"Y","n":1100,"v":127},{"s":"Y","n":1103,"v":4},{"s":"Y","n":1111,"v":0},{"s":"Y","n":1121,"v":-7},{"s":"Y","n":1128,"v":-4},{"s":"Y","n":1133,"v":4},{"s":"Y","n":1136,"v":-57},{"s":"Y","n":1138,"v":44},{"s":"Y","n":1141,"v":0},{"s":"Y","n":1148,"v":-4},{"s":"Y","n":1155,"v":-2},{"s":"Y","n":1160,"v":-22},{"s":"Y","n":1166,"v":18},{"s":"Y","n":1170,"v":-53},{"s":"Y","n":1173,"v":4},{"s":"Y","n":1180,"v":0},{"s":"Y","n":1185,"v":4},{"s":"Y","n":1191,"v":13},{"s":"Y","n":1197,"v":42},{"s":"Y","n":1201,"v":0},{"s":"Y","n":1208,"v":2},{"s":"Y","n":1221,"v":7},{"s":"Y","n":1238,"v":9},{"s":"Y","n":1255,"v":11},{"s":"Y","n":1271,"v":11},{"s":"Y","n":1281,"v":9},
{"s":"Z","n":673,"v":8},{"s":"Z","n":679,"v":6},{"s":"Z","n":685,"v":7},{"s":"Z","n":691,"v":5},{"s":"Z","n":698,"v":9},{"s":"Z","n":705,"v":11},{"s":"Z","n":708,"v":15},{"s":"Z","n":713,"v":11},{"s":"Z","n":716,"v":-7},{"s":"Z","n":720,"v":11},{"s":"Z","n":725,"v":-24},{"s":"Z","n":728,"v":11},{"s":"Z","n":733,"v":13},{"s":"Z","n":737,"v":8},{"s":"Z","n":741,"v":9},{"s":"Z","n":748,"v":4},{"s":"Z","n":751,"v":13},{"s":"Z","n":755,"v":70},{"s":"Z","n":757,"v":31},{"s":"Z","n":761,"v":-9},{"s":"Z","n":765,"v":-15},{"s":"Z","n":770,"v":-31},{"s":"Z","n":772,"v":35},{"s":"Z","n":775,"v":18},{"s":"Z","n":780,"v":7},{"s":"Z","n":783,"v":12},{"s":"Z","n":786,"v":9},{"s":"Z","n":790,"v":-13},{"s":"Z","n":793,"v":26},{"s":"Z","n":798,"v":-13},{"s":"Z","n":805,"v":88},{"s":"Z","n":807,"v":-127},{"s":"Z","n":810,"v":18},{"s":"Z","n":815,"v":9},{"s":"Z","n":820,"v":4},{"s":"Z","n":824,"v":9},{"s":"Z","n":828,"v":114},{"s":"Z","n":831,"v":31},{"s":"Z","n":835,"v":-13},{"s":"Z","n":840,"v":-127},{"s":"Z","n":843,"v":13},{"s":"Z","n":848,"v":9},{"s":"Z","n":851,"v":14},{"s":"Z","n":855,"v":11},{"s":"Z","n":860,"v":4},{"s":"Z","n":863,"v":-4},{"s":"Z","n":867,"v":-31},{"s":"Z","n":871,"v":-114},{"s":"Z","n":873,"v":13},{"s":"Z","n":878,"v":18},{"s":"Z","n":885,"v":7},{"s":"Z","n":891,"v":94},{"s":"Z","n":894,"v":-4},{"s":"Z","n":898,"v":4},{"s":"Z","n":903,"v":-24},{"s":"Z","n":905,"v":92},{"s":"Z","n":908,"v":4},{"s":"Z","n":913,"v":9},{"s":"Z","n":918,"v":-4},{"s":"Z","n":925,"v":81},{"s":"Z","n":928,"v":-9},{"s":"Z","n":933,"v":18},{"s":"Z","n":936,"v":75},{"s":"Z","n":939,"v":-4},{"s":"Z","n":945,"v":13},{"s":"Z","n":951,"v":9},{"s":"Z","n":958,"v":11},{"s":"Z","n":966,"v":96},{"s":"Z","n":970,"v":13},{"s":"Z","n":973,"v":-13},{"s":"Z","n":976,"v":-18},{"s":"Z","n":980,"v":13},{"s":"Z","n":986,"v":9},{"s":"Z","n":988,"v":75},{"s":"Z","n":991,"v":13},{"s":"Z","n":996,"v":-9},{"s":"Z","n":1000,"v":-26},{"s":"Z","n":1003,"v":96},{"s":"Z","n":1006,"v":13},{"s":"Z","n":1013,"v":9},{"s":"Z","n":1020,"v":13},{"s":"Z","n":1023,"v":26},{"s":"Z","n":1028,"v":-22},{"s":"Z","n":1034,"v":-66},{"s":"Z","n":1036,"v":26},{"s":"Z","n":1040,"v":13},{"s":"Z","n":1046,"v":11},{"s":"Z","n":1055,"v":42},{"s":"Z","n":1060,"v":0},{"s":"Z","n":1063,"v":-39},{"s":"Z","n":1066,"v":31},{"s":"Z","n":1070,"v":13},{"s":"Z","n":1078,"v":9},{"s":"Z","n":1085,"v":7},{"s":"Z","n":1088,"v":31},{"s":"Z","n":1091,"v":-4},{"s":"Z","n":1095,"v":13},{"s":"Z","n":1101,"v":11},{"s":"Z","n":1104,"v":15},{"s":"Z","n":1108,"v":9},{"s":"Z","n":1112,"v":14},{"s":"Z","n":1115,"v":7},{"s":"Z","n":1121,"v":4},{"s":"Z","n":1130,"v":46},{"s":"Z","n":1133,"v":-13},{"s":"Z","n":1135,"v":-42},{"s":"Z","n":1138,"v":22},{"s":"Z","n":1145,"v":11},{"s":"Z","n":1151,"v":9},{"s":"Z","n":1156,"v":15},{"s":"Z","n":1161,"v":31},{"s":"Z","n":1163,"v":0},{"s":"Z","n":1168,"v":13},{"s":"Z","n":1175,"v":9},{"s":"Z","n":1181,"v":11},{"s":"Z","n":1188,"v":22},{"s":"Z","n":1192,"v":-7},{"s":"Z","n":1196,"v":18},{"s":"Z","n":1200,"v":-22},{"s":"Z","n":1203,"v":7},{"s":"Z","n":1207,"v":10},{"s":"Z","n":1211,"v":7},{"s":"Z","n":1216,"v":10},{"s":"Z","n":1221,"v":9},{"s":"Z","n":1228,"v":6},{"s":"Z","n":1235,"v":7},{"s":"Z","n":1242,"v":5},{"s":"Z","n":1248,"v":7},{"s":"Z","n":1255,"v":5},{"s":"Z","n":1261,"v":7},{"s":"Z","n":1270,"v":5},{"s":"Z","n":1281,"v":2}
],
"b1":[{"n":26,"n2":94,"v":152,"v2":83.8},{"n":503,"n2":607,"v":-95.2,"v2":-147.7}],
"t1":[{"n":60,"v":133,"t":"Acc\nData"},{"n":555,"v":-121,"t":"일반인 1"}],
"b2":[{"n":680,"n2":747,"v":152,"v2":83.8},{"n":1143,"n2":1246,"v":-95.2,"v2":-146.3}],
"t2":[{"n":713,"v":133,"t":"Acc\nData"},{"n":1194,"v":-121,"t":"일반인 2"}],
"b3":[{"n":26,"n2":94,"v":149.3,"v2":84.5},{"n":472,"n2":648,"v":-91.1,"v2":-138.7}],
"t3":[{"n":60,"v":131.5,"t":"Acc\nData"},{"n":560,"v":-115,"t":"증상이 심한 환자"}],
"b4":[{"n":677,"n2":745,"v":150.7,"v2":87.5},{"n":1105,"n2":1281,"v":-86.2,"v2":-134.9}],
"t4":[{"n":711,"v":134,"t":"Acc\nData"},{"n":1193,"v":-110,"t":"증상이 있는 환자"}]
},
"spacing":2,
"resolve":{"scale":{"color":"independent","strokeWidth":"independent"}},
"vconcat":[
{"spacing":2,"resolve":{"scale":{"color":"independent","strokeWidth":"independent"}},"hconcat":[
{"width":655,"height":233,
"encoding":{"x":{"field":"n","type":"quantitative","scale":{"domain":[3,658],"nice":false,"zero":false},"axis":null},
"y":{"field":"v","type":"quantitative","scale":{"domain":[-163.4,167.6],"nice":false,"zero":false},"axis":{"values":[-150,-100,-50,0,50,100,150],"grid":false,"domain":false,"ticks":false,"labelFontSize":5,"labelColor":"#8a8a8a","labelPadding":1,"offset":-13,"title":null}}},
"layer":[
{"data":{"name":"grid"},"mark":{"type":"rule","color":"#e3e3e3","strokeWidth":1},"encoding":{"x":{"datum":20},"x2":{"datum":656}}},
{"data":{"values":[{"v":-8.5}]},"mark":{"type":"rule","color":"#a8a8a8","strokeWidth":7,"strokeDash":[1.6,2.4]},"encoding":{"x":{"datum":20},"x2":{"datum":656}}},
{"data":{"name":"p1"},"mark":{"type":"line","strokeWidth":1.3},"encoding":{"color":{"field":"s","type":"nominal","scale":{"domain":["X","Y","Z"],"range":["#5B9BD5","#9BCF62","#C8202A"]},"legend":null}}},
{"data":{"name":"b1"},"mark":{"type":"rect","fill":"white","stroke":"black","strokeWidth":2},"encoding":{"x2":{"field":"n2"},"y2":{"field":"v2"}}},
{"data":{"name":"t1"},"mark":{"type":"text","fontSize":20,"color":"black","baseline":"middle","align":"center","lineBreak":"\n","lineHeight":23},"encoding":{"text":{"field":"t"}}}
]},
{"width":623,"height":233,
"encoding":{"x":{"field":"n","type":"quantitative","scale":{"domain":[660,1283],"nice":false,"zero":false},"axis":null},
"y":{"field":"v","type":"quantitative","scale":{"domain":[-163.4,167.6],"nice":false,"zero":false},"axis":{"values":[-150,-100,-50,0,50,100,150],"grid":false,"domain":false,"ticks":false,"labelFontSize":4,"labelColor":"#9a9a9a","labelPadding":1,"offset":-7,"title":null}}},
"layer":[
{"data":{"name":"grid"},"mark":{"type":"rule","color":"#e3e3e3","strokeWidth":1},"encoding":{"x":{"datum":668},"x2":{"datum":1281}}},
{"data":{"values":[{"v":-9}]},"mark":{"type":"rule","color":"#a8a8a8","strokeWidth":7,"strokeDash":[1.6,2.4]},"encoding":{"x":{"datum":670},"x2":{"datum":1281}}},
{"data":{"name":"p2"},"mark":{"type":"line","strokeWidth":1.2},"encoding":{"color":{"field":"s","type":"nominal","scale":{"domain":["X","Y","Z"],"range":["#5B9BD5","#9BCF62","#F01C1C"]},"legend":null}}},
{"data":{"name":"b2"},"mark":{"type":"rect","fill":"white","stroke":"black","strokeWidth":2},"encoding":{"x2":{"field":"n2"},"y2":{"field":"v2"}}},
{"data":{"name":"t2"},"mark":{"type":"text","fontSize":20,"color":"black","baseline":"middle","align":"center","lineBreak":"\n","lineHeight":23},"encoding":{"text":{"field":"t"}}}
]}
]},
{"spacing":2,"resolve":{"scale":{"color":"independent","strokeWidth":"independent"}},"hconcat":[
{"width":655,"height":234,
"encoding":{"x":{"field":"n","type":"quantitative","scale":{"domain":[3,658],"nice":false,"zero":false},"axis":null},
"y":{"field":"v","type":"quantitative","scale":{"domain":[-151.9,157.2],"nice":false,"zero":false},"axis":{"values":[-150,-100,-50,0,50,100,150],"grid":false,"domain":false,"ticks":false,"labelFontSize":4.5,"labelOffset":-1.5,"labelColor":"#8a8a8a","labelPadding":1,"offset":-15,"title":null}}},
"layer":[
{"data":{"name":"grid"},"mark":{"type":"rule","color":"#e3e3e3","strokeWidth":1},"encoding":{"x":{"datum":22},"x2":{"datum":656}}},
{"data":{"values":[{"v":-9.2}]},"mark":{"type":"rule","color":"#b0b0b0","strokeWidth":8,"strokeDash":[2,4.6]},"encoding":{"x":{"datum":22},"x2":{"datum":656}}},
{"data":{"name":"p3"},"mark":{"type":"line"},"encoding":{"color":{"field":"s","type":"nominal","scale":{"domain":["X","Y","Z"],"range":["#5B9BD5","#8CC63F","#F01010"]},"legend":null},"strokeWidth":{"field":"s","type":"nominal","scale":{"domain":["X","Y","Z"],"range":[1.6,1.6,2.6]},"legend":null}}},
{"data":{"name":"b3"},"mark":{"type":"rect","fill":"white","stroke":"black","strokeWidth":2},"encoding":{"x2":{"field":"n2"},"y2":{"field":"v2"}}},
{"data":{"name":"t3"},"mark":{"type":"text","fontSize":20,"color":"black","baseline":"middle","align":"center","lineBreak":"\n","lineHeight":23},"encoding":{"text":{"field":"t"}}}
]},
{"width":623,"height":234,
"encoding":{"x":{"field":"n","type":"quantitative","scale":{"domain":[660,1283],"nice":false,"zero":false},"axis":null},
"y":{"field":"v","type":"quantitative","scale":{"domain":[-148,159.9],"nice":false,"zero":false},"axis":{"values":[-100,-50,0,50,100,150],"grid":false,"domain":false,"ticks":false,"labelFontSize":3,"labelColor":"#b0b0b0","labelPadding":1,"offset":-11,"title":null}}},
"layer":[
{"data":{"name":"grid"},"mark":{"type":"rule","color":"#e8e8e8","strokeWidth":1},"encoding":{"x":{"datum":672},"x2":{"datum":1281}}},
{"data":{"values":[{"v":-3.3}]},"mark":{"type":"rule","color":"#bdbdbd","strokeWidth":3,"strokeDash":[1.5,1.5]},"encoding":{"x":{"datum":673},"x2":{"datum":1281}}},
{"data":{"name":"p4"},"mark":{"type":"line","strokeWidth":1.2},"encoding":{"color":{"field":"s","type":"nominal","scale":{"domain":["X","Y","Z"],"range":["#5B9BD5","#8CCB52","#F01C1C"]},"legend":null}}},
{"data":{"name":"b4"},"mark":{"type":"rect","fill":"white","stroke":"black","strokeWidth":2},"encoding":{"x2":{"field":"n2"},"y2":{"field":"v2"}}},
{"data":{"name":"t4"},"mark":{"type":"text","fontSize":20,"color":"black","baseline":"middle","align":"center","lineBreak":"\n","lineHeight":23},"encoding":{"text":{"field":"t"}}}
]}
]}
]
}
